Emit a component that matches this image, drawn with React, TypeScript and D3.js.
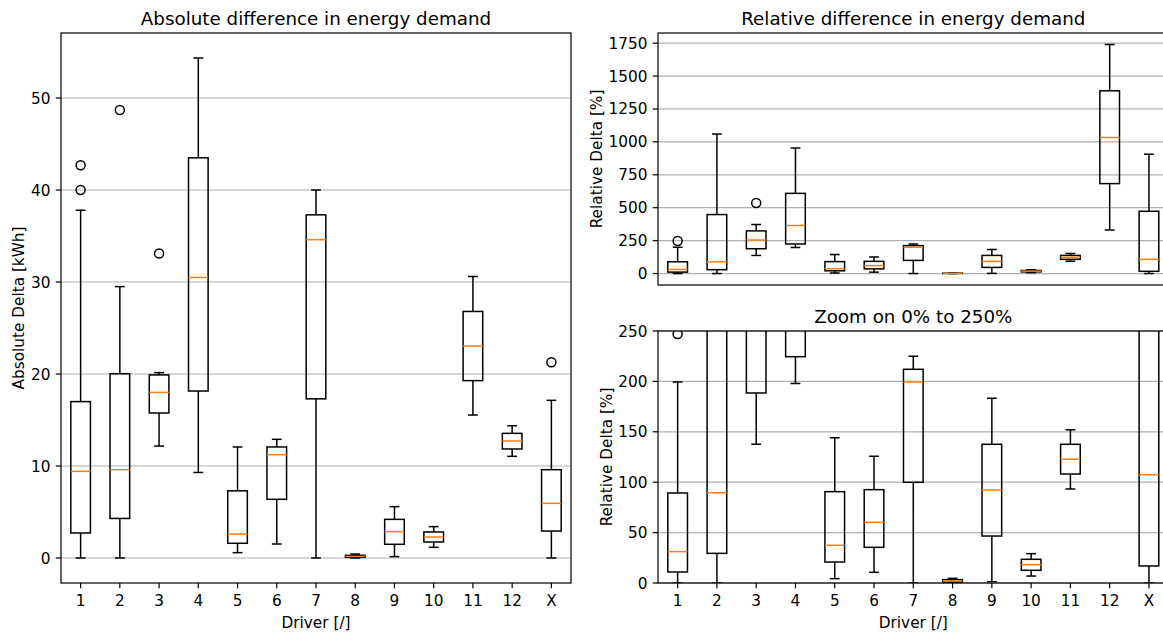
import React from "react"
import * as d3 from "d3"

const W = 1163
const H = 632
const FONT = "DejaVu Sans, Verdana, sans-serif"

const drivers = ["1", "2", "3", "4", "5", "6", "7", "8", "9", "10", "11", "12", "X"]

// absolute difference [kWh]
const absLow = [0, 0, 12.17, 9.3, 0.58, 1.52, 0, 0, 0.15, 1.16, 15.54, 11.05, 0]
const absQ1 = [2.72, 4.3, 15.76, 18.15, 1.6, 6.38, 17.3, 0.07, 1.49, 1.74, 19.28, 11.85, 2.93]
const absMed = [9.42, 9.6, 18.0, 30.5, 2.6, 11.23, 34.6, 0.17, 2.86, 2.28, 23.04, 12.72, 5.94]
const absQ3 = [17.0, 20.03, 19.9, 43.5, 7.3, 12.07, 37.3, 0.29, 4.2, 2.83, 26.8, 13.55, 9.6]
const absHigh = [37.8, 29.5, 20.15, 54.35, 12.07, 12.9, 40.0, 0.43, 5.58, 3.41, 30.6, 14.38, 17.14]
const absFliers = [[42.7, 40.0], [48.7], [33.1], [], [], [], [], [], [], [], [], [], [21.27]]
const absTicks = [0, 10, 20, 30, 40, 50]

// relative difference [%]
const relLow = [0, 0, 137.6, 198, 4.3, 10.6, 0, 0, 1.3, 6.9, 93.3, 331, 0]
const relQ1 = [10.9, 29.4, 188.5, 224.5, 20.8, 35.4, 99.9, 1, 46.6, 12.6, 108.1, 683, 16.9]
const relMed = [31.1, 89.6, 255, 364, 37.4, 60.2, 199.4, 2, 92.3, 18.2, 122.7, 1034, 107.5]
const relQ3 = [89.3, 448, 324, 609, 90.6, 92.6, 212, 3.3, 137.6, 23.5, 137.6, 1388, 473]
const relHigh = [199.4, 1060, 372, 953, 144.2, 125.7, 224.9, 4.6, 183.2, 29.1, 152.1, 1740, 906]
const relFliers = [[247], [], [536], [], [], [], [], [], [], [], [], [], []]
const relTicks = [0, 250, 500, 750, 1000, 1250, 1500, 1750]
const zoomTicks = [0, 50, 100, 150, 200, 250]

type Stats = { low: number[]; q1: number[]; med: number[]; q3: number[]; high: number[]; fliers: number[][] }

const absStats: Stats = { low: absLow, q1: absQ1, med: absMed, q3: absQ3, high: absHigh, fliers: absFliers }
const relStats: Stats = { low: relLow, q1: relQ1, med: relMed, q3: relQ3, high: relHigh, fliers: relFliers }

// matplotlib-like 5% autoscale margin
const paddedDomain = (s: Stats): [number, number] => {
  const all = [...s.low, ...s.high, ...s.fliers.flat()]
  const [lo, hi] = d3.extent(all) as [number, number]
  const pad = (hi - lo) * 0.05
  return [lo - pad, hi + pad]
}

const TICK = 5.3
const PAD = 5.3
const TICK_FS = 15.3
const LABEL_FS = 15.3
const TITLE_FS = 18.3
const THIN = 1.2
const BOX_LW = 1.5

function Panel({
  id, x0, x1, y0, y1, stats, domain, ticks, title, ylabel, ylabelX, showX,
}: {
  id: string; x0: number; x1: number; y0: number; y1: number; stats: Stats
  domain: [number, number]; ticks: number[]; title: string; ylabel: string; ylabelX: number; showX: boolean
}) {
  const x = d3.scaleLinear().domain([0.5, drivers.length + 0.5]).range([x0, x1])
  const y = d3.scaleLinear().domain(domain).range([y1, y0])
  const bw = x(1.25) - x(1)
  const cw = bw / 2
  const cy = (y0 + y1) / 2
  return (
    <g>
      <defs>
        <clipPath id={id}>
          <rect x={x0} y={y0} width={x1 - x0} height={y1 - y0} />
        </clipPath>
      </defs>
      <g>
        {ticks.map(t => (
          <line key={t} x1={x0} x2={x1} y1={y(t)} y2={y(t)} stroke="#b0b0b0" strokeWidth={THIN} />
        ))}
      </g>
      <g clipPath={`url(#${id})`} fill="none" strokeWidth={BOX_LW}>
        {drivers.map((d, i) => {
          const cx = x(i + 1)
          return (
            <g key={d}>
              <line x1={cx} x2={cx} y1={y(stats.q1[i])} y2={y(stats.low[i])} stroke="#000" />
              <line x1={cx} x2={cx} y1={y(stats.q3[i])} y2={y(stats.high[i])} stroke="#000" />
              <line x1={cx - cw} x2={cx + cw} y1={y(stats.low[i])} y2={y(stats.low[i])} stroke="#000" />
              <line x1={cx - cw} x2={cx + cw} y1={y(stats.high[i])} y2={y(stats.high[i])} stroke="#000" />
              <rect x={cx - bw} y={y(stats.q3[i])} width={2 * bw} height={y(stats.q1[i]) - y(stats.q3[i])} stroke="#000" />
              <line x1={cx - bw} x2={cx + bw} y1={y(stats.med[i])} y2={y(stats.med[i])} stroke="#ff7f0e" />
              {stats.fliers[i].map((f, k) => (
                <circle key={k} cx={cx} cy={y(f)} r={4.5} stroke="#000" strokeWidth={BOX_LW} />
              ))}
            </g>
          )
        })}
      </g>
      <rect x={x0} y={y0} width={x1 - x0} height={y1 - y0} fill="none" stroke="#000" strokeWidth={THIN} />
      <g fontFamily={FONT} fontSize={TICK_FS} fill="#000">
        {ticks.map(t => (
          <g key={t}>
            <line x1={x0 - TICK} x2={x0} y1={y(t)} y2={y(t)} stroke="#000" strokeWidth={THIN} />
            <text x={x0 - TICK - PAD} y={y(t)} dy="0.36em" textAnchor="end">{t}</text>
          </g>
        ))}
        {showX &&
          drivers.map((d, i) => (
            <g key={d}>
              <line x1={x(i + 1)} x2={x(i + 1)} y1={y1} y2={y1 + TICK} stroke="#000" strokeWidth={THIN} />
              <text x={x(i + 1)} y={y1 + 22.6} textAnchor="middle">{d}</text>
            </g>
          ))}
        {showX && (
          <text x={(x0 + x1) / 2} y={y1 + 44.8} textAnchor="middle" fontSize={LABEL_FS}>Driver [/]</text>
        )}
        <text transform={`translate(${ylabelX},${cy}) rotate(-90)`} textAnchor="middle" fontSize={LABEL_FS}>{ylabel}</text>
        <text x={(x0 + x1) / 2} y={y0 - 8} textAnchor="middle" fontSize={TITLE_FS}>{title}</text>
      </g>
    </g>
  )
}

export default function App() {
  return (
    <div style={{ position: "absolute", left: 0, top: 0, width: W, height: H, background: "#fff" }}>
      <svg width={W} height={H} style={{ display: "block" }}>
        <rect width={W} height={H} fill="#fff" />
        <Panel
          id="clip-abs" x0={61} x1={571} y0={33} y1={583}
          stats={absStats} domain={paddedDomain(absStats)} ticks={absTicks}
          title="Absolute difference in energy demand" ylabel="Absolute Delta [kWh]" ylabelX={23.5} showX
        />
        <Panel
          id="clip-rel" x0={658} x1={1168.6} y0={33} y1={285}
          stats={relStats} domain={paddedDomain(relStats)} ticks={relTicks}
          title="Relative difference in energy demand" ylabel="Relative Delta [%]" ylabelX={602} showX={false}
        />
        <Panel
          id="clip-zoom" x0={658} x1={1168.6} y0={331} y1={583}
          stats={relStats} domain={[0, 250]} ticks={zoomTicks}
          title="Zoom on 0% to 250%" ylabel="Relative Delta [%]" ylabelX={611.5} showX
        />
      </svg>
    </div>
  )
}
